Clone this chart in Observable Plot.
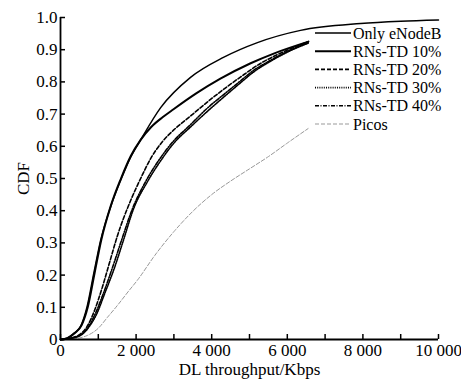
<!DOCTYPE html>
<html>
<head>
<meta charset="utf-8">
<script src="https://cdn.jsdelivr.net/npm/d3@7"></script>
<script src="https://cdn.jsdelivr.net/npm/@observablehq/plot@0.6"></script>
<style>
  html, body { margin: 0; padding: 0; background: #fff; }
  #chart { position: relative; width: 461px; height: 381px; }
</style>
</head>
<body>
<div id="chart"></div>
<script>
// ---- data ----
const seriesNames = ["Only eNodeB", "RNs-TD 10%", "RNs-TD 20%", "RNs-TD 30%", "RNs-TD 40%", "Picos"];

const onlyENodeB = [
  [0, 0], [150, 0.003], [350, 0.019], [530, 0.04], [700, 0.10], [880, 0.205], [1060, 0.307],
  [1320, 0.41], [1590, 0.494], [1850, 0.565], [2120, 0.62], [2650, 0.72], [3440, 0.814],
  [4310, 0.876], [5210, 0.922], [6350, 0.96], [7940, 0.981], [9000, 0.988], [10000, 0.992]
];
const rns10 = [
  [0, 0], [180, 0.004], [380, 0.02], [560, 0.045], [720, 0.10], [900, 0.205], [1080, 0.31],
  [1330, 0.415], [1600, 0.50], [1860, 0.57], [2120, 0.62], [2400, 0.66], [2700, 0.69],
  [2990, 0.715], [3600, 0.765], [4230, 0.81], [5030, 0.858], [5640, 0.888], [6560, 0.925]
];
const rns20 = [
  [0, 0], [300, 0.005], [500, 0.015], [700, 0.04], [900, 0.09], [1100, 0.16], [1300, 0.24],
  [1500, 0.32], [1850, 0.43], [2120, 0.50], [2400, 0.565], [2700, 0.615], [2990, 0.65],
  [3450, 0.695], [3890, 0.738], [4350, 0.78], [4760, 0.815], [5300, 0.858], [5800, 0.888], [6550, 0.925]
];
const rns30 = [
  [0, 0], [320, 0.005], [560, 0.015], [760, 0.04], [960, 0.08], [1160, 0.14], [1420, 0.22],
  [1670, 0.31], [1930, 0.405], [2300, 0.49], [2650, 0.555], [3000, 0.61], [3440, 0.66],
  [3900, 0.71], [4310, 0.752], [4760, 0.797], [5100, 0.83], [5600, 0.867], [6100, 0.898], [6550, 0.92]
];
const rns40 = [
  [0, 0], [310, 0.005], [540, 0.015], [740, 0.04], [940, 0.085], [1140, 0.145], [1380, 0.225],
  [1620, 0.31], [1900, 0.405], [2250, 0.49], [2620, 0.56], [2980, 0.615], [3420, 0.665],
  [3880, 0.718], [4310, 0.76], [4760, 0.803], [5100, 0.835], [5600, 0.87], [6100, 0.9], [6550, 0.922]
];
const picos = [
  [0, 0], [500, 0.005], [700, 0.012], [1000, 0.035], [1250, 0.07], [1500, 0.105], [1800, 0.15],
  [2040, 0.185], [2500, 0.262], [3000, 0.335], [3500, 0.398], [4000, 0.45], [4500, 0.492],
  [5000, 0.53], [5500, 0.568], [6000, 0.61], [6550, 0.655]
];

const xTicks = [0, 1000, 2000, 3000, 4000, 5000, 6000, 7000, 8000, 9000, 10000];
const xTickLabels = {0: "0", 2000: "2 000", 4000: "4 000", 6000: "6 000", 8000: "8 000", 10000: "10 000"};
const yTicks = [0, 0.1, 0.2, 0.3, 0.4, 0.5, 0.6, 0.7, 0.8, 0.9, 1.0];
const yTickLabels = ["0", "0.1", "0.2", "0.3", "0.4", "0.5", "0.6", "0.7", "0.8", "0.9", "1.0"];

// ---- styles ----
const styles = [
  {stroke: "#000", strokeWidth: 1.5, dash: null},
  {stroke: "#000", strokeWidth: 2, dash: null},
  {stroke: "#000", strokeWidth: 1.6, dash: "4,2"},
  {stroke: "#000", strokeWidth: 1.6, dash: "1,1.2"},
  {stroke: "#000", strokeWidth: 1.6, dash: "4,1.5,1,1.5"},
  {stroke: "#999", strokeWidth: 1, dash: "4,2"}
];
const allSeries = [onlyENodeB, rns10, rns20, rns30, rns40, picos];

const font = "'Liberation Serif', 'DejaVu Serif', serif";

const lineMarks = allSeries.map((s, i) => Plot.line(s, {
  x: d => d[0], y: d => d[1],
  stroke: styles[i].stroke, strokeWidth: styles[i].strokeWidth,
  strokeDasharray: styles[i].dash, curve: "monotone-x"
}));

const W = 461, H = 381, ML = 60, MR = 23, MT = 17, MB = 42;

const plot = Plot.plot({
  width: W,
  height: H,
  marginLeft: ML,
  marginRight: MR,
  marginTop: MT,
  marginBottom: MB,
  style: {fontFamily: font, fontSize: "17px", background: "#fff", color: "#000"},
  x: {domain: [0, 10000]},
  y: {domain: [0, 1]},
  marks: [
    ...lineMarks.slice().reverse(),
    // inward tick marks
    Plot.tickX(xTicks, {x: d => d, insetTop: (H - MT - MB) - 5, stroke: "#000", strokeWidth: 1.5}),
    Plot.tickY(yTicks, {y: d => d, insetRight: (W - ML - MR) - 5, stroke: "#000", strokeWidth: 1.5}),
    Plot.axisX({ticks: xTicks, tickSize: 0, tickPadding: 4, tickFormat: d => xTickLabels[d] ?? "",
      label: "DL throughput/Kbps", labelAnchor: "center", labelArrow: "none", labelOffset: 35,
      fontSize: 17}),
    Plot.axisY({ticks: yTicks, tickSize: 0, tickPadding: 3, tickFormat: (d, i) => yTickLabels[i],
      label: "CDF", labelAnchor: "center", labelArrow: "none", labelOffset: 44,
      fontSize: 17}),
    Plot.ruleY([0], {strokeWidth: 1.8}),
    Plot.ruleX([0], {strokeWidth: 1.8})
  ]
});

document.getElementById("chart").appendChild(plot);

// ---- legend (inside the plot, top right) ----
const svg = d3.select(plot);
const lg = svg.append("g").attr("font-family", font).attr("font-size", 16).attr("text-anchor", "start");
const legX0 = 315, legX1 = 351, legY0 = 33, legDy = 18.2;
seriesNames.forEach((name, i) => {
  const y = legY0 + i * legDy;
  lg.append("line").attr("x1", legX0).attr("x2", legX1).attr("y1", y).attr("y2", y)
    .attr("stroke", styles[i].stroke).attr("stroke-width", styles[i].strokeWidth)
    .attr("stroke-dasharray", styles[i].dash);
  lg.append("text").attr("x", legX1 + 2).attr("y", y).attr("dy", "0.35em")
    .attr("text-anchor", "start").attr("fill", "#000").text(name);
});
</script>
</body>
</html>
